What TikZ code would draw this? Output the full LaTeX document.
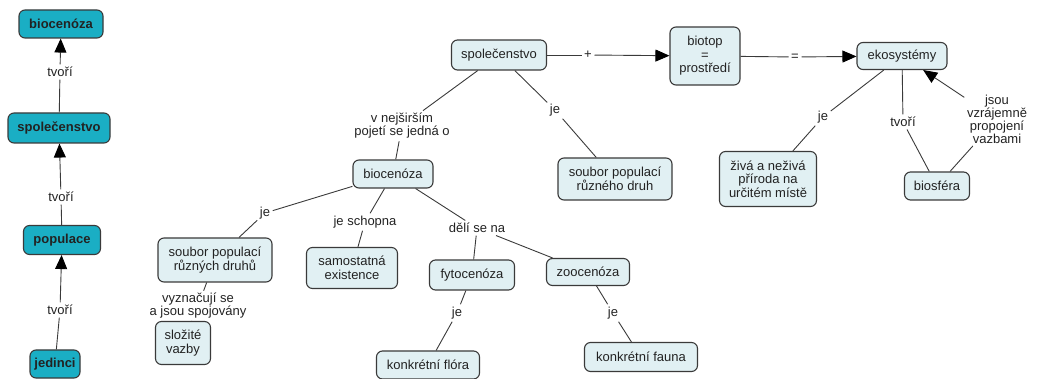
\documentclass[tikz,border=0pt]{standalone}
\usepackage{fontspec}
\setmainfont{Liberation Sans}
\usetikzlibrary{arrows.meta}
\definecolor{cteal}{HTML}{1AAEC4}
\definecolor{lightfill}{HTML}{E1F0F3}
\definecolor{boxline}{HTML}{3A3A3A}
\definecolor{txt}{HTML}{222222}
\begin{document}
\begin{tikzpicture}[x=1pt,y=-1pt,
  box/.style={draw=boxline, line width=1.1pt, rounded corners=6pt, fill=lightfill, align=center, inner sep=0pt, text=txt, font=\fontsize{13}{13.5}\selectfont},
  tbox/.style={box, fill=cteal, font=\bfseries\fontsize{13}{13.5}\selectfont},
  lab/.style={inner sep=2.5pt, align=center, text=txt, font=\fontsize{13}{13}\selectfont},
  conn/.style={draw=boxline, line width=0.9pt},
  arr/.style={conn, -{Triangle[length=14pt,width=12pt,color=black]}}]
\useasboundingbox (0,0) rectangle (1039,379);

% left column
\node[tbox, minimum width=84pt, minimum height=28pt] (L1) at (61,24) {biocenóza};
\node[tbox, minimum width=102pt, minimum height=30pt] (L2) at (59,128) {společenstvo};
\node[tbox, minimum width=77pt, minimum height=29pt] (L3) at (62,240) {populace};
\node[tbox, minimum width=50pt, minimum height=28pt] (L4) at (55,364) {jedinci};
\node[lab] (t1) at (60,72) {tvoří};
\node[lab] (t2) at (61,197) {tvoří};
\node[lab] (t3) at (60,310) {tvoří};
\draw[conn] (L2) -- (t1);
\draw[arr] (t1) -- (L1);
\draw[conn] (L3) -- (t2);
\draw[arr] (t2) -- (L2);
\draw[conn] (L4) -- (t3);
\draw[arr] (t3) -- (L3);

% main map nodes
\node[box, minimum width=95pt, minimum height=30pt] (S) at (499,55) {společenstvo};
\node[box, minimum width=70pt, minimum height=58pt] (B) at (705,56) {biotop\\=\\prostředí};
\node[box, minimum width=90pt, minimum height=27pt] (E) at (902,56) {ekosystémy};
\node[box, minimum width=97pt, minimum height=55pt] (Z) at (768,179) {živá a neživá\\příroda na\\určitém místě};
\node[box, minimum width=65pt, minimum height=28pt] (BS) at (937,186) {biosféra};
\node[box, minimum width=114pt, minimum height=42pt] (SR) at (615,179) {soubor populací\\různého druh};
\node[box, minimum width=80pt, minimum height=28pt] (BC) at (393,174) {biocenóza};
\node[box, minimum width=114pt, minimum height=44pt] (SD) at (215,260) {soubor populací\\různých druhů};
\node[box, minimum width=91pt, minimum height=41pt] (SE) at (352,268) {samostatná\\existence};
\node[box, minimum width=85pt, minimum height=30pt] (FY) at (472,275) {fytocenóza};
\node[box, minimum width=83pt, minimum height=27pt] (ZO) at (588,272) {zoocenóza};
\node[box, minimum width=103pt, minimum height=28pt] (KF) at (428,365) {konkrétní flóra};
\node[box, minimum width=113pt, minimum height=29pt] (KA) at (641,357) {konkrétní fauna};
\node[box, minimum width=55pt, minimum height=43pt] (SV) at (183,343) {složité\\vazby};

% linking phrases
\node[lab] (plus) at (588,55) {+};
\node[lab] (eq) at (795,57) {=};
\node[lab] (je1) at (555,110) {je};
\node[lab] (nej) at (402,126) {v nejširším\\pojetí se jedná o};
\node[lab] (jeE) at (823,117) {je};
\node[lab] (tvE) at (903,122) {tvoří};
\node[lab] (jsou) at (997,119) {jsou\\vzrájemně\\propojení\\vazbami};
\node[lab] (jeB) at (265,213) {je};
\node[lab] (schop) at (365,222) {je schopna};
\node[lab] (deli) at (477,228) {dělí se na};
\node[lab] (jeF) at (457,313) {je};
\node[lab] (jeZ) at (613,313) {je};
\node[lab] (vyz) at (198,306) {vyznačují se\\a jsou spojovány};

% connectors
\draw[conn] (S) -- (plus);
\draw[arr] (plus) -- (B);
\draw[conn] (B) -- (eq);
\draw[arr] (eq) -- (E);
\draw[conn] (S) -- (je1);
\draw[conn] (je1) -- (SR);
\draw[conn] (S) -- (nej);
\draw[conn] (nej) -- (BC);
\draw[conn] (E) -- (jeE);
\draw[conn] (jeE) -- (Z);
\draw[conn] (E) -- (tvE);
\draw[conn] (tvE) -- (BS);
\draw[conn] (BS) -- (jsou);
\draw[arr] (jsou) -- (E);
\draw[conn] (BC) -- (jeB);
\draw[conn] (jeB) -- (SD);
\draw[conn] (BC) -- (schop);
\draw[conn] (schop) -- (SE);
\draw[conn] (BC) -- (deli);
\draw[conn] (deli) -- (FY);
\draw[conn] (deli) -- (ZO);
\draw[conn] (FY) -- (jeF);
\draw[conn] (jeF) -- (KF);
\draw[conn] (ZO) -- (jeZ);
\draw[conn] (jeZ) -- (KA);
\draw[conn] (SD) -- (vyz);
\draw[conn] (vyz) -- (SV);
\end{tikzpicture}
\end{document}
